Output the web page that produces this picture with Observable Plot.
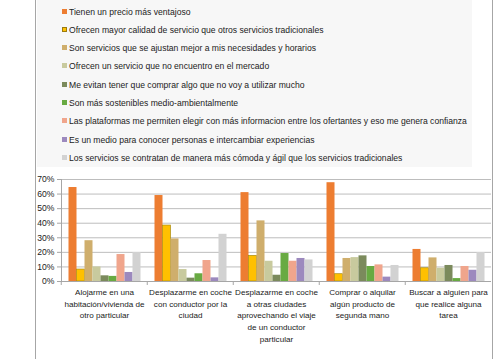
<!DOCTYPE html>
<html><head><meta charset="utf-8">
<script src="https://cdn.jsdelivr.net/npm/d3@7"></script>
<script src="https://cdn.jsdelivr.net/npm/@observablehq/plot@0.6"></script>
<style>
html,body{margin:0;padding:0;background:#fff;}
#wrap{position:relative;width:500px;height:359px;overflow:hidden;font-family:"Liberation Sans",Arial,sans-serif;}
#frameL{position:absolute;left:35px;top:0;width:1px;height:359px;background:#a6a6a6;}
#frameR{position:absolute;left:492px;top:0;width:1px;height:359px;background:#a6a6a6;}
#legend{position:absolute;left:37px;top:0;width:435px;height:167px;background:#f7f7f7;}
.item{position:absolute;left:25px;height:12px;line-height:12px;font-size:8.6px;color:#222;white-space:nowrap;}
.sw{display:inline-block;width:5px;height:5px;margin-right:2px;vertical-align:1px;box-sizing:border-box;}
#chart{position:absolute;left:0;top:165px;}
</style></head>
<body><div id="wrap"><div id="legend"></div><div id="chart"></div><div id="frameL"></div><div id="frameR"></div></div>
<script>
const categories = [
  "Alojarme en una\nhabitación/vivienda de\notro particular",
  "Desplazarme en coche\ncon conductor por la\nciudad",
  "Desplazarme en coche\na otras ciudades\naprovechando el viaje\nde un conductor\nparticular",
  "Comprar o alquilar\nalgún producto de\nsegunda mano",
  "Buscar a alguien para\nque realice alguna\ntarea"
];
const series = [
  "Tienen un precio más ventajoso",
  "Ofrecen mayor calidad de servicio que otros servicios tradicionales",
  "Son servicios que se ajustan mejor a mis necesidades y horarios",
  "Ofrecen un servicio que no encuentro en el mercado",
  "Me evitan tener que comprar algo que no voy a utilizar mucho",
  "Son más sostenibles medio-ambientalmente",
  "Las plataformas me permiten elegir con más informacion entre los ofertantes y eso me genera confianza",
  "Es un medio para conocer personas e intercambiar experiencias",
  "Los servicios se contratan de manera más cómoda y ágil que los servicios tradicionales"
];
const colors = ["#ED7D31","#FFC000","#CFAE6C","#C8CA9E","#7B8A5C","#68AA42","#F0A58C","#9C89BE","#D2D2D2"];
// values in %, one array per series, ordered like categories
const v0 = [64.5, 59, 61, 67.8, 22];
const v1 = [8.2, 38.4, 17.6, 5, 9.1];
const v2 = [28, 29.2, 41.6, 15.8, 16.2];
const v3 = [10, 8.2, 13.9, 16.4, 9.1];
const v4 = [3.9, 2.3, 4.3, 17.6, 11];
const v5 = [3.5, 5.3, 19.2, 10.3, 2];
const v6 = [18.5, 14.4, 13.9, 11.4, 10.3];
const v7 = [6.2, 2.5, 15.8, 3, 7.7];
const v8 = [19.9, 32.4, 14.8, 11, 19.9];
const yTicks = [0,10,20,30,40,50,60,70];

const valueArrays = [v0,v1,v2,v3,v4,v5,v6,v7,v8];
const data = [];
categories.forEach((c, ci) => series.forEach((s, si) => data.push({cat: c, s, v: valueArrays[si][ci]})));

// legend
const leg = document.getElementById("legend");
series.forEach((s, i) => {
  const d = document.createElement("div");
  d.className = "item";
  d.style.top = (5.5 + i * 18.3) + "px";
  const sw = document.createElement("span");
  sw.className = "sw";
  sw.style.background = colors[i];
  if (i === 1) sw.style.border = "1px solid #9a7a10";
  d.appendChild(sw);
  d.appendChild(document.createTextNode(s));
  leg.appendChild(d);
});

const W = 500, ML = 59.5, MR = 8;
const step = (W - ML - MR) / categories.length;

const fig = Plot.plot({
  width: W, height: 194,
  marginLeft: ML, marginRight: MR, marginTop: 14, marginBottom: 78,
  style: {fontFamily: "Liberation Sans, Arial, sans-serif", fontSize: "8.6px", color: "#222", background: "transparent"},
  fx: {domain: categories, padding: 0, label: null},
  x: {domain: series, padding: 0, paddingOuter: 0.85, axis: null},
  y: {domain: [0, 70], label: null},
  color: {domain: series, range: colors},
  marks: [
    Plot.gridY(yTicks, {stroke: "#bdbdbd", strokeOpacity: 1, strokeWidth: 1}),
    Plot.barY(data, {fx: "cat", x: "s", y: "v", fill: "s",
      stroke: d => d.s === series[1] ? "#a88a10" : "none", strokeWidth: 0.7}),
    Plot.ruleY([0], {stroke: "#a6a6a6"}),
    Plot.frame({anchor: "left", facetAnchor: "left", stroke: "#a6a6a6"}),
    Plot.axisY(yTicks, {anchor: "left", tickFormat: d => d + "%", tickSize: 4, stroke: "#a6a6a6", tickPadding: 3, fontSize: 8.6, facetAnchor: "left"}),
    Plot.axisFx({anchor: "bottom", tickSize: 0, tickPadding: 5, lineHeight: 1.45, fontSize: 8.1, fill: "#222", label: null}),
    Plot.axisFx({anchor: "bottom", tickSize: 4, text: null, dx: -step / 2, stroke: "#a6a6a6", label: null})
  ]
});
document.getElementById("chart").appendChild(fig);
</script></body></html>
